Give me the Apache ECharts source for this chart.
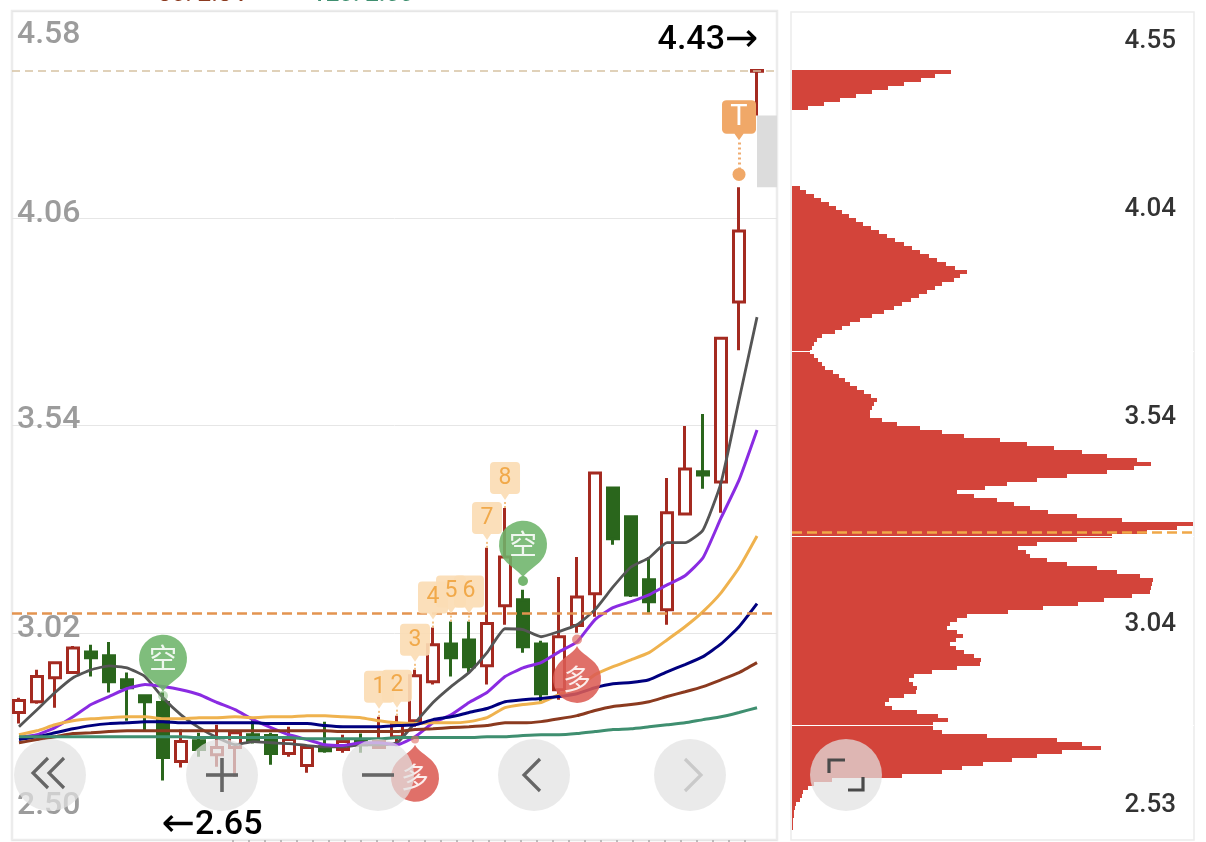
<!DOCTYPE html>
<html><head><meta charset="utf-8">
<style>html,body{margin:0;padding:0;background:#fff}#c{width:1206px;height:842px}</style>
<script src="https://cdn.jsdelivr.net/npm/echarts@6/dist/echarts.min.js"></script>
</head><body><div id="c"></div>
<script>
const tickValues = [2.50, 3.02, 3.54, 4.06, 4.58];
const candleIndex = Array.from({length: 42}, (_, i) => i);
const opens = [2.820,2.847,2.907,2.920,2.972,2.962,2.902,2.862,2.845,2.697,2.749,2.714,2.732,2.764,2.762,2.717,2.687,2.734,2.727,2.747,2.732,2.759,2.799,2.897,2.992,3.002,2.937,3.088,3.103,2.992,2.877,3.038,3.118,3.383,3.311,3.153,3.078,3.318,3.424,3.398,3.850,4.429];
const closes = [2.850,2.910,2.945,2.982,2.957,2.897,2.882,2.847,2.707,2.747,2.727,2.732,2.769,2.747,2.717,2.752,2.732,2.724,2.747,2.739,2.747,2.789,2.912,2.990,2.957,2.935,3.043,3.210,2.985,2.867,3.010,3.110,3.421,3.256,3.115,3.098,3.321,3.431,3.416,3.759,4.028,4.431];
const lows = [2.792,2.842,2.832,2.917,2.910,2.870,2.799,2.774,2.649,2.682,2.709,2.684,2.659,2.742,2.689,2.709,2.669,2.719,2.719,2.719,2.732,2.737,2.784,2.890,2.910,2.920,2.890,3.040,2.970,2.847,2.852,3.020,3.060,3.241,3.110,3.070,3.040,3.318,3.381,3.321,3.729,4.318];
const highs = [2.857,2.927,2.947,2.987,2.990,2.997,2.920,2.862,2.870,2.777,2.769,2.789,2.772,2.802,2.769,2.784,2.737,2.797,2.764,2.767,2.809,2.812,2.927,3.033,3.048,3.048,3.233,3.333,3.128,3.000,3.160,3.210,3.421,3.383,3.311,3.210,3.408,3.539,3.569,3.759,4.138,4.431];
const maGrey = [2.784,2.827,2.870,2.907,2.927,2.937,2.932,2.910,2.857,2.814,2.782,2.757,2.739,2.747,2.744,2.742,2.737,2.734,2.734,2.739,2.739,2.744,2.794,2.845,2.885,2.920,2.970,3.030,3.028,3.010,3.023,3.040,3.078,3.135,3.185,3.208,3.246,3.246,3.278,3.396,3.604,3.812];
const maPurple = [2.757,2.764,2.782,2.809,2.840,2.860,2.880,2.890,2.885,2.877,2.865,2.845,2.827,2.802,2.782,2.764,2.752,2.739,2.737,2.744,2.744,2.739,2.759,2.794,2.814,2.845,2.870,2.910,2.932,2.945,2.972,2.997,3.053,3.083,3.098,3.115,3.140,3.163,3.208,3.308,3.403,3.529];
const maOrange = [2.764,2.774,2.789,2.799,2.804,2.807,2.809,2.809,2.804,2.804,2.807,2.807,2.809,2.807,2.809,2.809,2.812,2.812,2.809,2.807,2.799,2.794,2.792,2.794,2.794,2.797,2.807,2.832,2.840,2.845,2.865,2.882,2.915,2.935,2.952,2.970,3.002,3.035,3.073,3.120,3.183,3.263];
const maNavy = [2.752,2.759,2.769,2.779,2.787,2.792,2.794,2.797,2.797,2.794,2.794,2.794,2.794,2.794,2.792,2.792,2.792,2.787,2.784,2.784,2.784,2.787,2.789,2.802,2.809,2.820,2.830,2.847,2.852,2.855,2.860,2.867,2.882,2.892,2.895,2.902,2.922,2.940,2.960,2.992,3.035,3.093];
const maBrown = [2.744,2.752,2.759,2.767,2.769,2.772,2.774,2.774,2.774,2.774,2.774,2.774,2.774,2.774,2.774,2.774,2.774,2.774,2.772,2.772,2.772,2.772,2.777,2.779,2.782,2.784,2.787,2.794,2.794,2.797,2.804,2.812,2.825,2.835,2.840,2.847,2.860,2.872,2.885,2.902,2.920,2.945];
const maGreen = [2.759,2.759,2.759,2.759,2.759,2.759,2.759,2.759,2.759,2.759,2.757,2.757,2.757,2.757,2.757,2.757,2.754,2.754,2.754,2.754,2.754,2.757,2.757,2.757,2.757,2.757,2.759,2.759,2.762,2.764,2.764,2.767,2.772,2.777,2.779,2.784,2.789,2.794,2.802,2.809,2.820,2.832];
const profile = [159,143,129,112,96,80,64,48,32,16,
 0,0,0,0,0,0,0,0,0,0,0,0,0,0,0,0,0,0,0,
 8,14,22,29,37,44,50,57,64,71,79,87,95,103,112,120,128,137,145,154,163,175,168,162,150,143,135,127,119,110,102,92,80,68,58,50,43,30,25,22,20,18,
 22,26,30,33,41,47,53,58,65,72,79,85,82,80,78,78,90,105,128,150,172,208,235,262,290,315,345,359,342,315,275,245,215,193,165,182,205,222,238,256,285,330,401,385,355,320,285,245,226,234,238,255,275,305,325,348,361,360,359,358,340,312,286,251,216,175,165,158,155,165,171,164,158,164,172,182,189,188,165,140,122,117,121,125,124,112,97,93,100,125,146,156,141,141,150,195,265,290,309,270,245,220,191,170,150,110,40,22,16,11,10,8,4,3,2,2,1,1,1];
const profileRows = profile.map((_, i) => 'r' + i);
const profileTicks = [{t:'4.55',y:41},{t:'4.04',y:209},{t:'3.54',y:417},{t:'3.04',y:624},{t:'2.53',y:805}];
const profileGridValues = [3.54, 3.04, 2.53];
const tagIdx = [20,21,22,23,24,25,26,27];

const HEAD = 'path://M24 57C22 52 12 46 8 42A24 24 0 1 1 40 42C36 46 26 52 24 57Z';
const HEADUP = 'path://M24 0C22 5 12 11 8 15A24 24 0 1 0 40 15C36 11 26 5 24 0Z';
const TAG = 'path://M4 0H26A4 4 0 0 1 30 4V28A4 4 0 0 1 26 32H19L15 38L11 32H4A4 4 0 0 1 0 28V4A4 4 0 0 1 4 0Z';
const cjk = '"Noto Sans CJK SC",sans-serif';

const pin = (i, v, text, color, up) => ({
  coord: [i, v], symbol: up ? HEADUP : HEAD, symbolSize: [48, 57],
  symbolOffset: [0, up ? 28.5 : -28.5],
  itemStyle: {color, opacity: 0.88},
  label: {show: true, formatter: text, color: '#fff', fontSize: 28, fontFamily: cjk, offset: [0, up ? 4.5 : -4.5]}
});
const dot = (i, v, color, size) => ({coord: [i, v], symbol: 'circle', symbolSize: size, itemStyle: {color}, label: {show: false}});
const tags = tagIdx.map((c, k) => ({
  coord: [c, highs[c] + 0.02], symbol: TAG, symbolSize: [30, 38], symbolOffset: [0, -19],
  itemStyle: {color: '#fbdcb4', opacity: 0.92},
  label: {show: true, formatter: String(k + 1), color: '#f0a440', fontSize: 23, fontFamily: 'Roboto', offset: [0, -3]}
}));
const stems = tagIdx.map(c => [
  {coord: [c, highs[c]], lineStyle: {color: '#f3c184', type: [2, 2], width: 2}},
  {coord: [c, highs[c] + 0.02]}
]);
const ma = (name, data, color, width) => ({
  name, type: 'line', data: data.map((v, i) => [i, v]), showSymbol: false, smooth: 0.15, z: 3,
  lineStyle: {color, width}, itemStyle: {color}
});
const txt = (text, x, y, font, fill, align) => ({type: 'text', x, y, z: 90,
  style: {text, font, fill, align: align || 'left', verticalAlign: 'middle'}});
const circle = (cx, cy) => ({type: 'circle', z: 100, shape: {cx, cy, r: 36}, style: {fill: 'rgba(226,226,226,0.72)'}});
const poly = (pts, stroke, w) => ({type: 'polyline', z: 101, shape: {points: pts}, style: {stroke, lineWidth: w || 3.2, fill: null}});
const arrowRich = {
  n: {fontSize: 34, fontWeight: 500, fontFamily: 'Roboto', color: '#000'},
  a: {fontSize: 40, fontFamily: 'DejaVu Sans', color: '#000'}
};

const chart = echarts.init(document.getElementById('c'), null, {renderer: 'canvas'});
chart.setOption({
  animation: false,
  backgroundColor: '#fff',
  grid: [
    {left: 12, top: 11, width: 765, height: 829, show: true, borderColor: '#ececec', borderWidth: 2.5, backgroundColor: 'transparent'},
    {left: 792, top: 70, width: 402, height: 760}
  ],
  xAxis: [
    {type: 'value', gridIndex: 0, min: -0.389, max: 42.11, show: false, splitLine: {show: false}},
    {type: 'value', gridIndex: 1, min: 0, max: 402, show: false, splitLine: {show: false}}
  ],
  yAxis: [
    {type: 'value', gridIndex: 0, min: 2.5, max: 4.58, axisLine: {show: false},
     axisTick: {show: false, customValues: tickValues},
     splitLine: {show: true, lineStyle: {color: '#e6e6e6', width: 1}},
     axisLabel: {show: true, inside: true, margin: 5, customValues: tickValues,
       formatter: v => {
         const k = {'2.50': 'b', '3.02': 'm', '3.54': 'n', '4.06': 'm', '4.58': 't'}[v.toFixed(2)];
         return '{' + k + '|' + v.toFixed(2) + '}';
       },
       rich: (function () {
         const base = {fontSize: 32, fontWeight: 500, fontFamily: 'Roboto', color: '#9c9c9c'};
         return {
           t: Object.assign({padding: [48, 0, 0, 0]}, base),
           m: Object.assign({padding: [0, 0, 8, 0]}, base),
           n: Object.assign({padding: [0, 0, 12, 0]}, base),
           b: Object.assign({padding: [0, 0, 68, 0]}, base)
         };
       })()
     }},
    {type: 'category', gridIndex: 1, inverse: true, data: profileRows, show: false},
    {type: 'value', gridIndex: 1, min: 2.246, max: 4.299, z: 4, position: 'right',
     axisLine: {show: false}, axisLabel: {show: false},
     axisTick: {show: false, customValues: profileGridValues},
     splitLine: {show: true, lineStyle: {color: '#fff', width: 1}}}
  ],
  series: [
    {name: 'K', type: 'candlestick', xAxisIndex: 0, yAxisIndex: 0, z: 2, barWidth: 12,
     encode: {x: 0, y: [1, 2, 3, 4]},
     data: candleIndex.map(i => [i, opens[i], closes[i], lows[i], highs[i]]),
     itemStyle: {color: '#fff', color0: '#2a661c', borderColor: '#a42a20', borderColor0: '#2a661c', borderWidth: 3},
     markArea: {silent: true, itemStyle: {color: '#dcdcdc'}, data: [[{xAxis: 41, yAxis: 4.318}, {xAxis: 42.11, yAxis: 4.138}]]},
     markLine: {silent: true, symbol: ['none', 'none'], label: {show: false}, data: [
       {yAxis: 4.43, lineStyle: {color: '#d6c2a2', type: [8, 5], width: 1.6}},
       {yAxis: 3.0725, lineStyle: {color: '#e39450', type: [10, 5], width: 2.6}},
       [{coord: [40, 4.170], lineStyle: {color: '#f0ac70', type: [2, 3], width: 3}}, {coord: [40, 4.256]}],
       ...stems
     ]},
     markPoint: {silent: true, data: [
       ...tags,
       dot(8, 2.862, 'rgba(120,185,115,0.45)', 10),
       dot(28, 3.150, '#75b670', 10),
       dot(22, 2.752, 'rgba(224,110,100,0.6)', 8),
       dot(31, 3.003, 'rgba(224,110,100,0.7)', 10),
       pin(8, 2.872, '空', '#6db46a', false),
       pin(28, 3.158, '空', '#6db46a', false),
       pin(22, 2.739, '多', '#dc5c54', true),
       pin(31, 2.987, '多', '#dc5c54', true),
       dot(40, 4.170, '#f0a868', 13),
       {coord: [40, 4.256], symbol: TAG, symbolSize: [34, 40], symbolOffset: [0, -20],
        itemStyle: {color: '#f0a868'},
        label: {show: true, formatter: 'T', color: '#fff', fontSize: 29, fontFamily: 'Roboto', offset: [0, -2]}},
       {coord: [41, 4.43], symbol: 'circle', symbolSize: 1, itemStyle: {color: 'transparent'},
        label: {show: true, formatter: '{n|4.43}{a|→}', rich: arrowRich, offset: [-49, -30]}},
       {coord: [8, 2.65], symbol: 'circle', symbolSize: 1, itemStyle: {color: 'transparent'},
        label: {show: true, formatter: '{a|←}{n|2.65}', rich: arrowRich, offset: [49, 45]}}
     ]}},
    ma('MA5', maGrey, '#555555', 2.8),
    ma('MA10', maPurple, '#8a2be2', 3),
    ma('MA20', maOrange, '#efb24e', 3),
    ma('MA30', maNavy, '#00007f', 3),
    ma('MA60', maBrown, '#8b3a1f', 3),
    ma('MA120', maGreen, '#3f8f70', 3),
    {name: 'profile', type: 'bar', xAxisIndex: 1, yAxisIndex: 1, data: profile, barWidth: '100%', barGap: 0, z: 2,
     itemStyle: {color: '#d3443a'}},
    {name: 'cost', type: 'line', xAxisIndex: 1, yAxisIndex: 2, data: [[0, 3.05]], showSymbol: false, z: 5,
     lineStyle: {opacity: 0},
     markLine: {silent: true, symbol: ['none', 'none'], label: {show: false},
       data: [{yAxis: 3.047, lineStyle: {color: '#f0a848', type: [10, 5], width: 2.6}}]}}
  ],
  graphic: {elements: [
    {type: 'rect', z: 1, shape: {x: 791, y: 12, width: 403, height: 828}, style: {fill: 'transparent', stroke: '#ececec', lineWidth: 1.5}},
    txt('30: 2.84', 158, -5, '500 24px Roboto', '#8b3a1f'),
    txt('120: 2.56', 312, -5, '500 24px Roboto', '#3f8f70'),
    {type: 'line', z: 1, shape: {x1: 232, y1: 841, x2: 760, y2: 841}, style: {stroke: '#bbb', lineWidth: 2, lineDash: [2, 14]}},
    ...profileTicks.map(p => txt(p.t, 1176, p.y, '500 26px Roboto', '#333', 'right')),
    circle(50, 775), circle(222, 775), circle(378, 775), circle(534, 775), circle(690, 775), circle(846, 775),
    poly([[48, 758], [33, 773], [48, 788]], '#666'), poly([[64, 758], [49, 773], [64, 788]], '#666'),
    poly([[206, 775], [238, 775]], '#666', 3.6), poly([[222, 758], [222, 792]], '#666', 3.6),
    poly([[362, 775], [394, 775]], '#666', 3.6),
    poly([[540, 759], [524, 775], [540, 791]], '#666'),
    poly([[685, 759], [701, 775], [685, 791]], '#c9c9c9'),
    poly([[829, 773], [829, 760], [845, 760]], '#4a4a4a'), poly([[848, 790], [863, 790], [863, 777]], '#4a4a4a')
  ]}
});
</script></body></html>
